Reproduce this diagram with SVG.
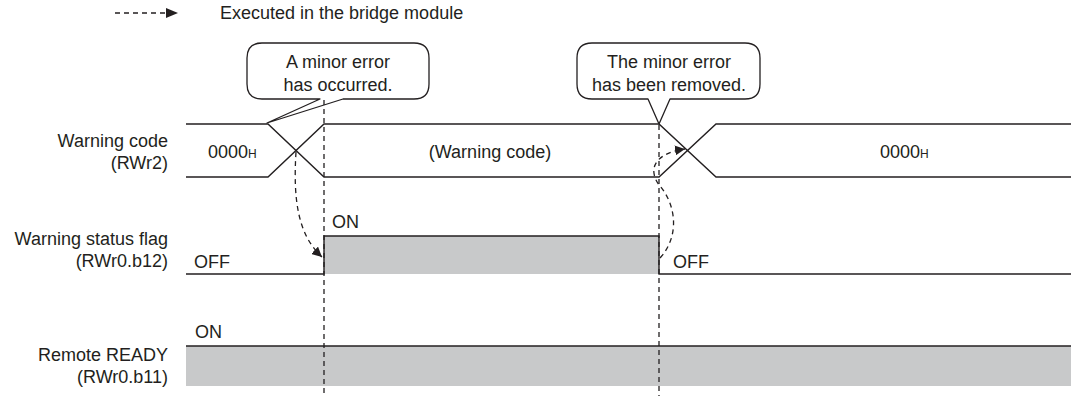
<svg xmlns="http://www.w3.org/2000/svg" width="1071" height="401" viewBox="0 0 1071 401">
<style>
text{font-family:"Liberation Sans",Arial,sans-serif;font-size:18px;fill:#231f20}
.r{text-anchor:end}
.c{text-anchor:middle}
.sig{fill:none;stroke:#231f20;stroke-width:1.4}
.gray{fill:#c8c9ca;stroke:none}
.dash{fill:none;stroke:#231f20;stroke-width:1.3;stroke-dasharray:5 4}
.call{fill:#fff;stroke:#231f20;stroke-width:1.3;stroke-linejoin:round}
.sub{font-size:12px}
</style>
<defs>
<marker id="ah" viewBox="0 0 10 10" refX="10" refY="5" markerWidth="10" markerHeight="10" markerUnits="userSpaceOnUse" orient="auto">
<path d="M0,0 L10,5 L0,10 Z" fill="#231f20"/>
</marker>
</defs>
<rect width="1071" height="401" fill="#fff"/>

<g id="legend">
<line class="dash" x1="115" y1="13" x2="167" y2="13" stroke-dasharray="4 3.5"/>
<path d="M166,8 L178,13 L166,18 Z" fill="#231f20"/>
<text x="220" y="19">Executed in the bridge module</text>
</g>

<g id="labels">
<text class="r" x="168" y="147">Warning code</text>
<text class="r" x="168" y="169">(RWr2)</text>
<text class="r" x="168" y="245">Warning status flag</text>
<text class="r" x="168" y="267">(RWr0.b12)</text>
<text class="r" x="168" y="361">Remote READY</text>
<text class="r" x="168" y="383">(RWr0.b11)</text>
</g>

<g id="warning-code">
<path class="sig" d="M186,124 H268 L324,177 H659 L716,124 H1071"/>
<path class="sig" d="M186,177 H268 L324,124 H659 L716,177 H1071"/>
<text x="208" y="158">0000<tspan class="sub">H</tspan></text>
<text class="c" x="490" y="158">(Warning code)</text>
<text x="880" y="158">0000<tspan class="sub">H</tspan></text>
</g>

<g id="warning-status-flag">
<rect class="gray" x="324" y="236" width="335" height="38"/>
<path class="sig" d="M186,274 H324 V236 H659 V274 H1071"/>
<text x="332" y="228">ON</text>
<text x="194" y="268">OFF</text>
<text x="673" y="268">OFF</text>
</g>

<g id="remote-ready">
<rect class="gray" x="186" y="346" width="885" height="40"/>
<line class="sig" x1="186" y1="346" x2="1071" y2="346"/>
<text x="195" y="338">ON</text>
</g>

<g id="callout-occurred">
<path class="call" d="M262,43 H414 Q429,43 429,58 V84 Q429,99 414,99 H343 L267,123 L320,99 H262 Q247,99 247,84 V58 Q247,43 262,43 Z"/>
<text class="c" x="338" y="68">A minor error</text>
<text class="c" x="338" y="91">has occurred.</text>
</g>

<g id="callout-removed">
<path class="call" d="M592,43 H745 Q760,43 760,58 V84 Q760,99 745,99 H670 L659,124 L648,99 H592 Q577,99 577,84 V58 Q577,43 592,43 Z"/>
<text class="c" x="669" y="68">The minor error</text>
<text class="c" x="669" y="91">has been removed.</text>
</g>

<g id="connectors">
<line class="dash" x1="324" y1="100" x2="324" y2="396"/>
<line class="dash" x1="659" y1="125" x2="659" y2="396"/>
<path class="dash" d="M296,152 C293,200 298,235 322,257" marker-end="url(#ah)"/>
<path class="dash" d="M660,258 C680,236 676,205 660,186 C649,173 650,154 685,149" marker-end="url(#ah)"/>
</g>
</svg>
